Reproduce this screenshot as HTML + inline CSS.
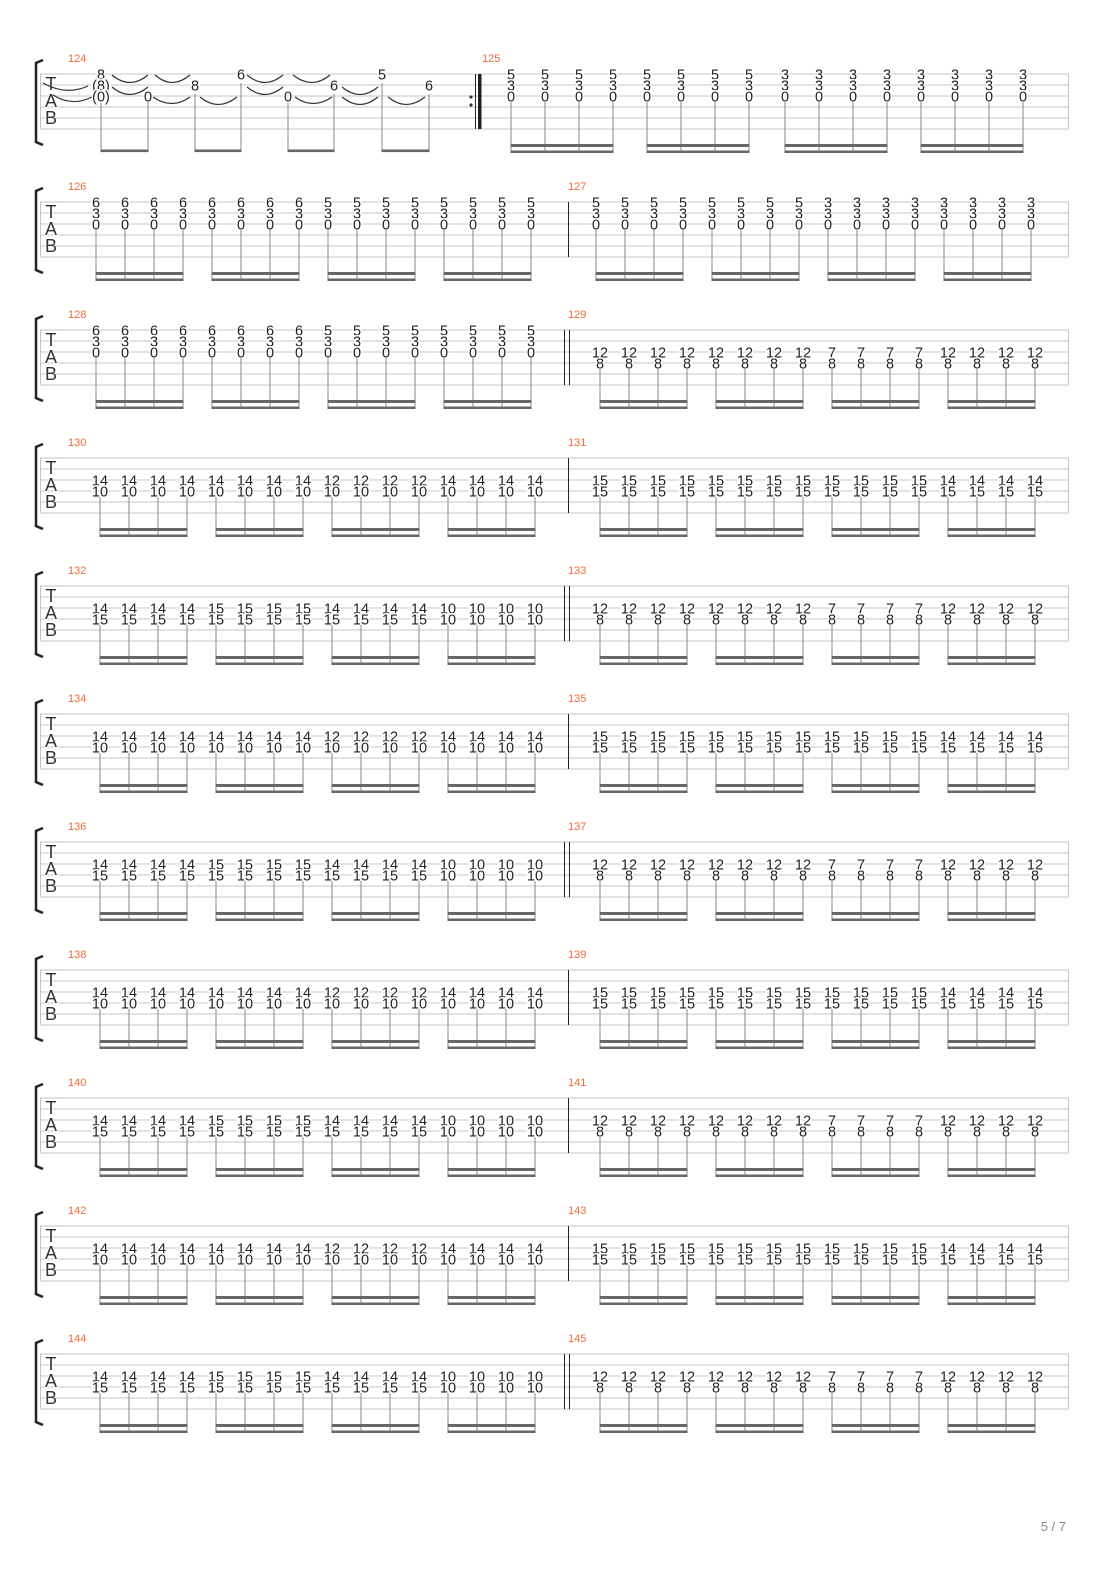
<!DOCTYPE html>
<html><head><meta charset="utf-8"><style>
html,body{margin:0;padding:0;background:#fff}
svg{display:block}
text{font-family:"Liberation Sans",sans-serif}
.n{transform:translate(0px,0.8px)}
.n text{font-size:14.5px;fill:#222;text-anchor:middle;paint-order:stroke;stroke:#fff;stroke-width:3px}
.lb{font-size:11px;fill:#f26b3a}
.tab{font-size:18px;fill:#333;text-anchor:middle;paint-order:stroke;stroke:#fff;stroke-width:2px}
.st{stroke:#c4c4c4;stroke-width:1}
.sm{stroke:#888;stroke-width:1;fill:none}
.bm{fill:#666}
.tie{stroke:#333;stroke-width:1.2;fill:none}
</style></head><body>
<svg width="1110" height="1570" viewBox="0 0 1110 1570" xmlns="http://www.w3.org/2000/svg">

<!-- ===== System 0: 124/125 ===== -->
<g transform="translate(0,74)">
<path class="st" d="M40 0H1069M40 11H1069M40 22H1069M40 33H1069M40 44H1069M40 55H1069M40.5 0V55M1068.5 0V55"/>
<path d="M43 -14L36 -11V68L43 71" stroke="#222" stroke-width="2.5" fill="none"/>
<text class="tab" x="51" y="16">T</text><text class="tab" x="51" y="33">A</text><text class="tab" x="51" y="50">B</text>
<text class="lb" x="68" y="-12">124</text><text class="lb" x="482" y="-12">125</text>
<circle cx="471" cy="23" r="1.6" fill="#333"/><circle cx="471" cy="31" r="1.6" fill="#333"/>
<path d="M475.5 0V55" stroke="#222" stroke-width="1"/><rect x="478" y="0" width="3.5" height="55" fill="#222"/>
<path class="tie" d="M43 9Q66 22 88 12M53 21Q72 33 92 23M112 1Q130 16 148 1M155 1Q172 16 190 1M112 13Q130 28 148 13M153 23Q172 36 190 23M200 23Q218 38 237 23M247 1Q265 16 283 1M293 1Q312 16 330 1M247 13Q265 28 283 13M295 23Q313 36 332 23M342 13Q360 28 378 13M342 23Q360 38 378 23M388 23Q406 38 425 23"/>
<g class="n">
<text x="101" y="4.5">8</text><text x="101" y="15.5">(8)</text><text x="101" y="26.5">(0)</text>
<text x="148" y="26.5">0</text><text x="195" y="15.5">8</text><text x="241" y="4.5">6</text>
<text x="288" y="26.5">0</text><text x="334" y="15.5">6</text><text x="382" y="4.5">5</text><text x="429" y="15.5">6</text>
</g>
<path class="sm" d="M101 29V78M148 28V78M195 20V78M241 9V78M288 29V78M334 20V78M382 9V78M429 20V78"/>
<rect class="bm" x="100.5" y="75.5" width="48" height="2.6"/><rect class="bm" x="194.5" y="75.5" width="47" height="2.6"/><rect class="bm" x="287.5" y="75.5" width="47" height="2.6"/><rect class="bm" x="381.5" y="75.5" width="48" height="2.6"/>
<g class="n">
<g transform="translate(0,4.5)"><text x="511">5</text><text x="545">5</text><text x="579">5</text><text x="613">5</text><text x="647">5</text><text x="681">5</text><text x="715">5</text><text x="749">5</text><text x="785">3</text><text x="819">3</text><text x="853">3</text><text x="887">3</text><text x="921">3</text><text x="955">3</text><text x="989">3</text><text x="1023">3</text></g>
<g transform="translate(0,15.5)"><text x="511">3</text><text x="545">3</text><text x="579">3</text><text x="613">3</text><text x="647">3</text><text x="681">3</text><text x="715">3</text><text x="749">3</text><text x="785">3</text><text x="819">3</text><text x="853">3</text><text x="887">3</text><text x="921">3</text><text x="955">3</text><text x="989">3</text><text x="1023">3</text></g>
<g transform="translate(0,26.5)"><text x="511">0</text><text x="545">0</text><text x="579">0</text><text x="613">0</text><text x="647">0</text><text x="681">0</text><text x="715">0</text><text x="749">0</text><text x="785">0</text><text x="819">0</text><text x="853">0</text><text x="887">0</text><text x="921">0</text><text x="955">0</text><text x="989">0</text><text x="1023">0</text></g>
</g>
<path class="sm" d="M511 28V79M545 28V79M579 28V79M613 28V79M647 28V79M681 28V79M715 28V79M749 28V79M785 28V79M819 28V79M853 28V79M887 28V79M921 28V79M955 28V79M989 28V79M1023 28V79"/>
<g class="bm"><rect x="510.5" y="70" width="103" height="3"/><rect x="510.5" y="76.5" width="103" height="2.5"/><rect x="646.5" y="70" width="103" height="3"/><rect x="646.5" y="76.5" width="103" height="2.5"/><rect x="784.5" y="70" width="103" height="3"/><rect x="784.5" y="76.5" width="103" height="2.5"/><rect x="920.5" y="70" width="103" height="3"/><rect x="920.5" y="76.5" width="103" height="2.5"/></g>
</g>

<!-- ===== System 1: 126/127 ===== -->
<g transform="translate(0,202)">
<path class="st" d="M40 0H1069M40 11H1069M40 22H1069M40 33H1069M40 44H1069M40 55H1069M40.5 0V55M1068.5 0V55"/>
<path d="M43 -14L36 -11V68L43 71" stroke="#222" stroke-width="2.5" fill="none"/>
<text class="tab" x="51" y="16">T</text><text class="tab" x="51" y="33">A</text><text class="tab" x="51" y="50">B</text>
<text class="lb" x="68" y="-12">126</text><text class="lb" x="568" y="-12">127</text>
<path d="M568.5 0V55" stroke="#222" stroke-width="1"/>
<g class="n">
<g transform="translate(0,4.5)"><text x="96">6</text><text x="125">6</text><text x="154">6</text><text x="183">6</text><text x="212">6</text><text x="241">6</text><text x="270">6</text><text x="299">6</text><text x="328">5</text><text x="357">5</text><text x="386">5</text><text x="415">5</text><text x="444">5</text><text x="473">5</text><text x="502">5</text><text x="531">5</text>
<text x="596">5</text><text x="625">5</text><text x="654">5</text><text x="683">5</text><text x="712">5</text><text x="741">5</text><text x="770">5</text><text x="799">5</text><text x="828">3</text><text x="857">3</text><text x="886">3</text><text x="915">3</text><text x="944">3</text><text x="973">3</text><text x="1002">3</text><text x="1031">3</text></g>
<g transform="translate(0,15.5)"><text x="96">3</text><text x="125">3</text><text x="154">3</text><text x="183">3</text><text x="212">3</text><text x="241">3</text><text x="270">3</text><text x="299">3</text><text x="328">3</text><text x="357">3</text><text x="386">3</text><text x="415">3</text><text x="444">3</text><text x="473">3</text><text x="502">3</text><text x="531">3</text>
<text x="596">3</text><text x="625">3</text><text x="654">3</text><text x="683">3</text><text x="712">3</text><text x="741">3</text><text x="770">3</text><text x="799">3</text><text x="828">3</text><text x="857">3</text><text x="886">3</text><text x="915">3</text><text x="944">3</text><text x="973">3</text><text x="1002">3</text><text x="1031">3</text></g>
<g transform="translate(0,26.5)"><text x="96">0</text><text x="125">0</text><text x="154">0</text><text x="183">0</text><text x="212">0</text><text x="241">0</text><text x="270">0</text><text x="299">0</text><text x="328">0</text><text x="357">0</text><text x="386">0</text><text x="415">0</text><text x="444">0</text><text x="473">0</text><text x="502">0</text><text x="531">0</text>
<text x="596">0</text><text x="625">0</text><text x="654">0</text><text x="683">0</text><text x="712">0</text><text x="741">0</text><text x="770">0</text><text x="799">0</text><text x="828">0</text><text x="857">0</text><text x="886">0</text><text x="915">0</text><text x="944">0</text><text x="973">0</text><text x="1002">0</text><text x="1031">0</text></g>
</g>
<path class="sm" d="M96 28V79M125 28V79M154 28V79M183 28V79M212 28V79M241 28V79M270 28V79M299 28V79M328 28V79M357 28V79M386 28V79M415 28V79M444 28V79M473 28V79M502 28V79M531 28V79M596 28V79M625 28V79M654 28V79M683 28V79M712 28V79M741 28V79M770 28V79M799 28V79M828 28V79M857 28V79M886 28V79M915 28V79M944 28V79M973 28V79M1002 28V79M1031 28V79"/>
<g class="bm"><rect x="95.5" y="70" width="88" height="3"/><rect x="95.5" y="76.5" width="88" height="2.5"/><rect x="211.5" y="70" width="88" height="3"/><rect x="211.5" y="76.5" width="88" height="2.5"/><rect x="327.5" y="70" width="88" height="3"/><rect x="327.5" y="76.5" width="88" height="2.5"/><rect x="443.5" y="70" width="88" height="3"/><rect x="443.5" y="76.5" width="88" height="2.5"/>
<rect x="595.5" y="70" width="88" height="3"/><rect x="595.5" y="76.5" width="88" height="2.5"/><rect x="711.5" y="70" width="88" height="3"/><rect x="711.5" y="76.5" width="88" height="2.5"/><rect x="827.5" y="70" width="88" height="3"/><rect x="827.5" y="76.5" width="88" height="2.5"/><rect x="943.5" y="70" width="88" height="3"/><rect x="943.5" y="76.5" width="88" height="2.5"/></g>
</g>

<!-- ===== System 2: 128/129 ===== -->
<g transform="translate(0,330)">
<path class="st" d="M40 0H1069M40 11H1069M40 22H1069M40 33H1069M40 44H1069M40 55H1069M40.5 0V55M1068.5 0V55"/>
<path d="M43 -14L36 -11V68L43 71" stroke="#222" stroke-width="2.5" fill="none"/>
<text class="tab" x="51" y="16">T</text><text class="tab" x="51" y="33">A</text><text class="tab" x="51" y="50">B</text>
<text class="lb" x="68" y="-12">128</text><text class="lb" x="568" y="-12">129</text>
<path d="M564.5 0V55M569.5 0V55" stroke="#222" stroke-width="1"/>
<g class="n">
<g transform="translate(0,4.5)"><text x="96">6</text><text x="125">6</text><text x="154">6</text><text x="183">6</text><text x="212">6</text><text x="241">6</text><text x="270">6</text><text x="299">6</text><text x="328">5</text><text x="357">5</text><text x="386">5</text><text x="415">5</text><text x="444">5</text><text x="473">5</text><text x="502">5</text><text x="531">5</text></g>
<g transform="translate(0,15.5)"><text x="96">3</text><text x="125">3</text><text x="154">3</text><text x="183">3</text><text x="212">3</text><text x="241">3</text><text x="270">3</text><text x="299">3</text><text x="328">3</text><text x="357">3</text><text x="386">3</text><text x="415">3</text><text x="444">3</text><text x="473">3</text><text x="502">3</text><text x="531">3</text></g>
<g transform="translate(0,26.5)"><text x="96">0</text><text x="125">0</text><text x="154">0</text><text x="183">0</text><text x="212">0</text><text x="241">0</text><text x="270">0</text><text x="299">0</text><text x="328">0</text><text x="357">0</text><text x="386">0</text><text x="415">0</text><text x="444">0</text><text x="473">0</text><text x="502">0</text><text x="531">0</text>
<text x="600">12</text><text x="629">12</text><text x="658">12</text><text x="687">12</text><text x="716">12</text><text x="745">12</text><text x="774">12</text><text x="803">12</text><text x="832">7</text><text x="861">7</text><text x="890">7</text><text x="919">7</text><text x="948">12</text><text x="977">12</text><text x="1006">12</text><text x="1035">12</text></g>
<g transform="translate(0,37.5)"><text x="600">8</text><text x="629">8</text><text x="658">8</text><text x="687">8</text><text x="716">8</text><text x="745">8</text><text x="774">8</text><text x="803">8</text><text x="832">8</text><text x="861">8</text><text x="890">8</text><text x="919">8</text><text x="948">8</text><text x="977">8</text><text x="1006">8</text><text x="1035">8</text></g>
</g>
<path class="sm" d="M96 28V79M125 28V79M154 28V79M183 28V79M212 28V79M241 28V79M270 28V79M299 28V79M328 28V79M357 28V79M386 28V79M415 28V79M444 28V79M473 28V79M502 28V79M531 28V79M600 39V79M629 39V79M658 39V79M687 39V79M716 39V79M745 39V79M774 39V79M803 39V79M832 39V79M861 39V79M890 39V79M919 39V79M948 39V79M977 39V79M1006 39V79M1035 39V79"/>
<g class="bm"><rect x="95.5" y="70" width="88" height="3"/><rect x="95.5" y="76.5" width="88" height="2.5"/><rect x="211.5" y="70" width="88" height="3"/><rect x="211.5" y="76.5" width="88" height="2.5"/><rect x="327.5" y="70" width="88" height="3"/><rect x="327.5" y="76.5" width="88" height="2.5"/><rect x="443.5" y="70" width="88" height="3"/><rect x="443.5" y="76.5" width="88" height="2.5"/>
<rect x="599.5" y="70" width="88" height="3"/><rect x="599.5" y="76.5" width="88" height="2.5"/><rect x="715.5" y="70" width="88" height="3"/><rect x="715.5" y="76.5" width="88" height="2.5"/><rect x="831.5" y="70" width="88" height="3"/><rect x="831.5" y="76.5" width="88" height="2.5"/><rect x="947.5" y="70" width="88" height="3"/><rect x="947.5" y="76.5" width="88" height="2.5"/></g>
</g>

<!-- System 3: 130/131 -->
<g transform="translate(0,458)">
<path class="st" d="M40 0H1069M40 11H1069M40 22H1069M40 33H1069M40 44H1069M40 55H1069M40.5 0V55M1068.5 0V55"/>
<path d="M43 -14L36 -11V68L43 71" stroke="#222" stroke-width="2.5" fill="none"/>
<text class="tab" x="51" y="16">T</text><text class="tab" x="51" y="33">A</text><text class="tab" x="51" y="50">B</text>
<text class="lb" x="68" y="-12">130</text><text class="lb" x="568" y="-12">131</text>
<path d="M568.5 0V55" stroke="#222" stroke-width="1"/>
<g class="n">
<g transform="translate(0,26.5)"><text x="100">14</text><text x="129">14</text><text x="158">14</text><text x="187">14</text><text x="216">14</text><text x="245">14</text><text x="274">14</text><text x="303">14</text><text x="332">12</text><text x="361">12</text><text x="390">12</text><text x="419">12</text><text x="448">14</text><text x="477">14</text><text x="506">14</text><text x="535">14</text>
<text x="600">15</text><text x="629">15</text><text x="658">15</text><text x="687">15</text><text x="716">15</text><text x="745">15</text><text x="774">15</text><text x="803">15</text><text x="832">15</text><text x="861">15</text><text x="890">15</text><text x="919">15</text><text x="948">14</text><text x="977">14</text><text x="1006">14</text><text x="1035">14</text></g>
<g transform="translate(0,37.5)"><text x="100">10</text><text x="129">10</text><text x="158">10</text><text x="187">10</text><text x="216">10</text><text x="245">10</text><text x="274">10</text><text x="303">10</text><text x="332">10</text><text x="361">10</text><text x="390">10</text><text x="419">10</text><text x="448">10</text><text x="477">10</text><text x="506">10</text><text x="535">10</text>
<text x="600">15</text><text x="629">15</text><text x="658">15</text><text x="687">15</text><text x="716">15</text><text x="745">15</text><text x="774">15</text><text x="803">15</text><text x="832">15</text><text x="861">15</text><text x="890">15</text><text x="919">15</text><text x="948">15</text><text x="977">15</text><text x="1006">15</text><text x="1035">15</text></g>
</g>
<path class="sm" d="M100 39V79M129 39V79M158 39V79M187 39V79M216 39V79M245 39V79M274 39V79M303 39V79M332 39V79M361 39V79M390 39V79M419 39V79M448 39V79M477 39V79M506 39V79M535 39V79M600 39V79M629 39V79M658 39V79M687 39V79M716 39V79M745 39V79M774 39V79M803 39V79M832 39V79M861 39V79M890 39V79M919 39V79M948 39V79M977 39V79M1006 39V79M1035 39V79"/>
<g class="bm"><rect x="99.5" y="70" width="88" height="3"/><rect x="99.5" y="76.5" width="88" height="2.5"/><rect x="215.5" y="70" width="88" height="3"/><rect x="215.5" y="76.5" width="88" height="2.5"/><rect x="331.5" y="70" width="88" height="3"/><rect x="331.5" y="76.5" width="88" height="2.5"/><rect x="447.5" y="70" width="88" height="3"/><rect x="447.5" y="76.5" width="88" height="2.5"/>
<rect x="599.5" y="70" width="88" height="3"/><rect x="599.5" y="76.5" width="88" height="2.5"/><rect x="715.5" y="70" width="88" height="3"/><rect x="715.5" y="76.5" width="88" height="2.5"/><rect x="831.5" y="70" width="88" height="3"/><rect x="831.5" y="76.5" width="88" height="2.5"/><rect x="947.5" y="70" width="88" height="3"/><rect x="947.5" y="76.5" width="88" height="2.5"/></g>
</g>

<!-- System 4: 132/133 -->
<g transform="translate(0,586)">
<path class="st" d="M40 0H1069M40 11H1069M40 22H1069M40 33H1069M40 44H1069M40 55H1069M40.5 0V55M1068.5 0V55"/>
<path d="M43 -14L36 -11V68L43 71" stroke="#222" stroke-width="2.5" fill="none"/>
<text class="tab" x="51" y="16">T</text><text class="tab" x="51" y="33">A</text><text class="tab" x="51" y="50">B</text>
<text class="lb" x="68" y="-12">132</text><text class="lb" x="568" y="-12">133</text>
<path d="M564.5 0V55M569.5 0V55" stroke="#222" stroke-width="1"/>
<g class="n">
<g transform="translate(0,26.5)"><text x="100">14</text><text x="129">14</text><text x="158">14</text><text x="187">14</text><text x="216">15</text><text x="245">15</text><text x="274">15</text><text x="303">15</text><text x="332">14</text><text x="361">14</text><text x="390">14</text><text x="419">14</text><text x="448">10</text><text x="477">10</text><text x="506">10</text><text x="535">10</text>
<text x="600">12</text><text x="629">12</text><text x="658">12</text><text x="687">12</text><text x="716">12</text><text x="745">12</text><text x="774">12</text><text x="803">12</text><text x="832">7</text><text x="861">7</text><text x="890">7</text><text x="919">7</text><text x="948">12</text><text x="977">12</text><text x="1006">12</text><text x="1035">12</text></g>
<g transform="translate(0,37.5)"><text x="100">15</text><text x="129">15</text><text x="158">15</text><text x="187">15</text><text x="216">15</text><text x="245">15</text><text x="274">15</text><text x="303">15</text><text x="332">15</text><text x="361">15</text><text x="390">15</text><text x="419">15</text><text x="448">10</text><text x="477">10</text><text x="506">10</text><text x="535">10</text>
<text x="600">8</text><text x="629">8</text><text x="658">8</text><text x="687">8</text><text x="716">8</text><text x="745">8</text><text x="774">8</text><text x="803">8</text><text x="832">8</text><text x="861">8</text><text x="890">8</text><text x="919">8</text><text x="948">8</text><text x="977">8</text><text x="1006">8</text><text x="1035">8</text></g>
</g>
<path class="sm" d="M100 39V79M129 39V79M158 39V79M187 39V79M216 39V79M245 39V79M274 39V79M303 39V79M332 39V79M361 39V79M390 39V79M419 39V79M448 39V79M477 39V79M506 39V79M535 39V79M600 39V79M629 39V79M658 39V79M687 39V79M716 39V79M745 39V79M774 39V79M803 39V79M832 39V79M861 39V79M890 39V79M919 39V79M948 39V79M977 39V79M1006 39V79M1035 39V79"/>
<g class="bm"><rect x="99.5" y="70" width="88" height="3"/><rect x="99.5" y="76.5" width="88" height="2.5"/><rect x="215.5" y="70" width="88" height="3"/><rect x="215.5" y="76.5" width="88" height="2.5"/><rect x="331.5" y="70" width="88" height="3"/><rect x="331.5" y="76.5" width="88" height="2.5"/><rect x="447.5" y="70" width="88" height="3"/><rect x="447.5" y="76.5" width="88" height="2.5"/>
<rect x="599.5" y="70" width="88" height="3"/><rect x="599.5" y="76.5" width="88" height="2.5"/><rect x="715.5" y="70" width="88" height="3"/><rect x="715.5" y="76.5" width="88" height="2.5"/><rect x="831.5" y="70" width="88" height="3"/><rect x="831.5" y="76.5" width="88" height="2.5"/><rect x="947.5" y="70" width="88" height="3"/><rect x="947.5" y="76.5" width="88" height="2.5"/></g>
</g>

<!-- System 5: 134/135 -->
<g transform="translate(0,714)">
<path class="st" d="M40 0H1069M40 11H1069M40 22H1069M40 33H1069M40 44H1069M40 55H1069M40.5 0V55M1068.5 0V55"/>
<path d="M43 -14L36 -11V68L43 71" stroke="#222" stroke-width="2.5" fill="none"/>
<text class="tab" x="51" y="16">T</text><text class="tab" x="51" y="33">A</text><text class="tab" x="51" y="50">B</text>
<text class="lb" x="68" y="-12">134</text><text class="lb" x="568" y="-12">135</text>
<path d="M568.5 0V55" stroke="#222" stroke-width="1"/>
<g class="n">
<g transform="translate(0,26.5)"><text x="100">14</text><text x="129">14</text><text x="158">14</text><text x="187">14</text><text x="216">14</text><text x="245">14</text><text x="274">14</text><text x="303">14</text><text x="332">12</text><text x="361">12</text><text x="390">12</text><text x="419">12</text><text x="448">14</text><text x="477">14</text><text x="506">14</text><text x="535">14</text>
<text x="600">15</text><text x="629">15</text><text x="658">15</text><text x="687">15</text><text x="716">15</text><text x="745">15</text><text x="774">15</text><text x="803">15</text><text x="832">15</text><text x="861">15</text><text x="890">15</text><text x="919">15</text><text x="948">14</text><text x="977">14</text><text x="1006">14</text><text x="1035">14</text></g>
<g transform="translate(0,37.5)"><text x="100">10</text><text x="129">10</text><text x="158">10</text><text x="187">10</text><text x="216">10</text><text x="245">10</text><text x="274">10</text><text x="303">10</text><text x="332">10</text><text x="361">10</text><text x="390">10</text><text x="419">10</text><text x="448">10</text><text x="477">10</text><text x="506">10</text><text x="535">10</text>
<text x="600">15</text><text x="629">15</text><text x="658">15</text><text x="687">15</text><text x="716">15</text><text x="745">15</text><text x="774">15</text><text x="803">15</text><text x="832">15</text><text x="861">15</text><text x="890">15</text><text x="919">15</text><text x="948">15</text><text x="977">15</text><text x="1006">15</text><text x="1035">15</text></g>
</g>
<path class="sm" d="M100 39V79M129 39V79M158 39V79M187 39V79M216 39V79M245 39V79M274 39V79M303 39V79M332 39V79M361 39V79M390 39V79M419 39V79M448 39V79M477 39V79M506 39V79M535 39V79M600 39V79M629 39V79M658 39V79M687 39V79M716 39V79M745 39V79M774 39V79M803 39V79M832 39V79M861 39V79M890 39V79M919 39V79M948 39V79M977 39V79M1006 39V79M1035 39V79"/>
<g class="bm"><rect x="99.5" y="70" width="88" height="3"/><rect x="99.5" y="76.5" width="88" height="2.5"/><rect x="215.5" y="70" width="88" height="3"/><rect x="215.5" y="76.5" width="88" height="2.5"/><rect x="331.5" y="70" width="88" height="3"/><rect x="331.5" y="76.5" width="88" height="2.5"/><rect x="447.5" y="70" width="88" height="3"/><rect x="447.5" y="76.5" width="88" height="2.5"/>
<rect x="599.5" y="70" width="88" height="3"/><rect x="599.5" y="76.5" width="88" height="2.5"/><rect x="715.5" y="70" width="88" height="3"/><rect x="715.5" y="76.5" width="88" height="2.5"/><rect x="831.5" y="70" width="88" height="3"/><rect x="831.5" y="76.5" width="88" height="2.5"/><rect x="947.5" y="70" width="88" height="3"/><rect x="947.5" y="76.5" width="88" height="2.5"/></g>
</g>

<!-- System 6: 136/137 -->
<g transform="translate(0,842)">
<path class="st" d="M40 0H1069M40 11H1069M40 22H1069M40 33H1069M40 44H1069M40 55H1069M40.5 0V55M1068.5 0V55"/>
<path d="M43 -14L36 -11V68L43 71" stroke="#222" stroke-width="2.5" fill="none"/>
<text class="tab" x="51" y="16">T</text><text class="tab" x="51" y="33">A</text><text class="tab" x="51" y="50">B</text>
<text class="lb" x="68" y="-12">136</text><text class="lb" x="568" y="-12">137</text>
<path d="M564.5 0V55M569.5 0V55" stroke="#222" stroke-width="1"/>
<g class="n">
<g transform="translate(0,26.5)"><text x="100">14</text><text x="129">14</text><text x="158">14</text><text x="187">14</text><text x="216">15</text><text x="245">15</text><text x="274">15</text><text x="303">15</text><text x="332">14</text><text x="361">14</text><text x="390">14</text><text x="419">14</text><text x="448">10</text><text x="477">10</text><text x="506">10</text><text x="535">10</text>
<text x="600">12</text><text x="629">12</text><text x="658">12</text><text x="687">12</text><text x="716">12</text><text x="745">12</text><text x="774">12</text><text x="803">12</text><text x="832">7</text><text x="861">7</text><text x="890">7</text><text x="919">7</text><text x="948">12</text><text x="977">12</text><text x="1006">12</text><text x="1035">12</text></g>
<g transform="translate(0,37.5)"><text x="100">15</text><text x="129">15</text><text x="158">15</text><text x="187">15</text><text x="216">15</text><text x="245">15</text><text x="274">15</text><text x="303">15</text><text x="332">15</text><text x="361">15</text><text x="390">15</text><text x="419">15</text><text x="448">10</text><text x="477">10</text><text x="506">10</text><text x="535">10</text>
<text x="600">8</text><text x="629">8</text><text x="658">8</text><text x="687">8</text><text x="716">8</text><text x="745">8</text><text x="774">8</text><text x="803">8</text><text x="832">8</text><text x="861">8</text><text x="890">8</text><text x="919">8</text><text x="948">8</text><text x="977">8</text><text x="1006">8</text><text x="1035">8</text></g>
</g>
<path class="sm" d="M100 39V79M129 39V79M158 39V79M187 39V79M216 39V79M245 39V79M274 39V79M303 39V79M332 39V79M361 39V79M390 39V79M419 39V79M448 39V79M477 39V79M506 39V79M535 39V79M600 39V79M629 39V79M658 39V79M687 39V79M716 39V79M745 39V79M774 39V79M803 39V79M832 39V79M861 39V79M890 39V79M919 39V79M948 39V79M977 39V79M1006 39V79M1035 39V79"/>
<g class="bm"><rect x="99.5" y="70" width="88" height="3"/><rect x="99.5" y="76.5" width="88" height="2.5"/><rect x="215.5" y="70" width="88" height="3"/><rect x="215.5" y="76.5" width="88" height="2.5"/><rect x="331.5" y="70" width="88" height="3"/><rect x="331.5" y="76.5" width="88" height="2.5"/><rect x="447.5" y="70" width="88" height="3"/><rect x="447.5" y="76.5" width="88" height="2.5"/>
<rect x="599.5" y="70" width="88" height="3"/><rect x="599.5" y="76.5" width="88" height="2.5"/><rect x="715.5" y="70" width="88" height="3"/><rect x="715.5" y="76.5" width="88" height="2.5"/><rect x="831.5" y="70" width="88" height="3"/><rect x="831.5" y="76.5" width="88" height="2.5"/><rect x="947.5" y="70" width="88" height="3"/><rect x="947.5" y="76.5" width="88" height="2.5"/></g>
</g>

<!-- System 7: 138/139 -->
<g transform="translate(0,970)">
<path class="st" d="M40 0H1069M40 11H1069M40 22H1069M40 33H1069M40 44H1069M40 55H1069M40.5 0V55M1068.5 0V55"/>
<path d="M43 -14L36 -11V68L43 71" stroke="#222" stroke-width="2.5" fill="none"/>
<text class="tab" x="51" y="16">T</text><text class="tab" x="51" y="33">A</text><text class="tab" x="51" y="50">B</text>
<text class="lb" x="68" y="-12">138</text><text class="lb" x="568" y="-12">139</text>
<path d="M568.5 0V55" stroke="#222" stroke-width="1"/>
<g class="n">
<g transform="translate(0,26.5)"><text x="100">14</text><text x="129">14</text><text x="158">14</text><text x="187">14</text><text x="216">14</text><text x="245">14</text><text x="274">14</text><text x="303">14</text><text x="332">12</text><text x="361">12</text><text x="390">12</text><text x="419">12</text><text x="448">14</text><text x="477">14</text><text x="506">14</text><text x="535">14</text>
<text x="600">15</text><text x="629">15</text><text x="658">15</text><text x="687">15</text><text x="716">15</text><text x="745">15</text><text x="774">15</text><text x="803">15</text><text x="832">15</text><text x="861">15</text><text x="890">15</text><text x="919">15</text><text x="948">14</text><text x="977">14</text><text x="1006">14</text><text x="1035">14</text></g>
<g transform="translate(0,37.5)"><text x="100">10</text><text x="129">10</text><text x="158">10</text><text x="187">10</text><text x="216">10</text><text x="245">10</text><text x="274">10</text><text x="303">10</text><text x="332">10</text><text x="361">10</text><text x="390">10</text><text x="419">10</text><text x="448">10</text><text x="477">10</text><text x="506">10</text><text x="535">10</text>
<text x="600">15</text><text x="629">15</text><text x="658">15</text><text x="687">15</text><text x="716">15</text><text x="745">15</text><text x="774">15</text><text x="803">15</text><text x="832">15</text><text x="861">15</text><text x="890">15</text><text x="919">15</text><text x="948">15</text><text x="977">15</text><text x="1006">15</text><text x="1035">15</text></g>
</g>
<path class="sm" d="M100 39V79M129 39V79M158 39V79M187 39V79M216 39V79M245 39V79M274 39V79M303 39V79M332 39V79M361 39V79M390 39V79M419 39V79M448 39V79M477 39V79M506 39V79M535 39V79M600 39V79M629 39V79M658 39V79M687 39V79M716 39V79M745 39V79M774 39V79M803 39V79M832 39V79M861 39V79M890 39V79M919 39V79M948 39V79M977 39V79M1006 39V79M1035 39V79"/>
<g class="bm"><rect x="99.5" y="70" width="88" height="3"/><rect x="99.5" y="76.5" width="88" height="2.5"/><rect x="215.5" y="70" width="88" height="3"/><rect x="215.5" y="76.5" width="88" height="2.5"/><rect x="331.5" y="70" width="88" height="3"/><rect x="331.5" y="76.5" width="88" height="2.5"/><rect x="447.5" y="70" width="88" height="3"/><rect x="447.5" y="76.5" width="88" height="2.5"/>
<rect x="599.5" y="70" width="88" height="3"/><rect x="599.5" y="76.5" width="88" height="2.5"/><rect x="715.5" y="70" width="88" height="3"/><rect x="715.5" y="76.5" width="88" height="2.5"/><rect x="831.5" y="70" width="88" height="3"/><rect x="831.5" y="76.5" width="88" height="2.5"/><rect x="947.5" y="70" width="88" height="3"/><rect x="947.5" y="76.5" width="88" height="2.5"/></g>
</g>

<!-- System 8: 140/141 -->
<g transform="translate(0,1098)">
<path class="st" d="M40 0H1069M40 11H1069M40 22H1069M40 33H1069M40 44H1069M40 55H1069M40.5 0V55M1068.5 0V55"/>
<path d="M43 -14L36 -11V68L43 71" stroke="#222" stroke-width="2.5" fill="none"/>
<text class="tab" x="51" y="16">T</text><text class="tab" x="51" y="33">A</text><text class="tab" x="51" y="50">B</text>
<text class="lb" x="68" y="-12">140</text><text class="lb" x="568" y="-12">141</text>
<path d="M568.5 0V55" stroke="#222" stroke-width="1"/>
<g class="n">
<g transform="translate(0,26.5)"><text x="100">14</text><text x="129">14</text><text x="158">14</text><text x="187">14</text><text x="216">15</text><text x="245">15</text><text x="274">15</text><text x="303">15</text><text x="332">14</text><text x="361">14</text><text x="390">14</text><text x="419">14</text><text x="448">10</text><text x="477">10</text><text x="506">10</text><text x="535">10</text>
<text x="600">12</text><text x="629">12</text><text x="658">12</text><text x="687">12</text><text x="716">12</text><text x="745">12</text><text x="774">12</text><text x="803">12</text><text x="832">7</text><text x="861">7</text><text x="890">7</text><text x="919">7</text><text x="948">12</text><text x="977">12</text><text x="1006">12</text><text x="1035">12</text></g>
<g transform="translate(0,37.5)"><text x="100">15</text><text x="129">15</text><text x="158">15</text><text x="187">15</text><text x="216">15</text><text x="245">15</text><text x="274">15</text><text x="303">15</text><text x="332">15</text><text x="361">15</text><text x="390">15</text><text x="419">15</text><text x="448">10</text><text x="477">10</text><text x="506">10</text><text x="535">10</text>
<text x="600">8</text><text x="629">8</text><text x="658">8</text><text x="687">8</text><text x="716">8</text><text x="745">8</text><text x="774">8</text><text x="803">8</text><text x="832">8</text><text x="861">8</text><text x="890">8</text><text x="919">8</text><text x="948">8</text><text x="977">8</text><text x="1006">8</text><text x="1035">8</text></g>
</g>
<path class="sm" d="M100 39V79M129 39V79M158 39V79M187 39V79M216 39V79M245 39V79M274 39V79M303 39V79M332 39V79M361 39V79M390 39V79M419 39V79M448 39V79M477 39V79M506 39V79M535 39V79M600 39V79M629 39V79M658 39V79M687 39V79M716 39V79M745 39V79M774 39V79M803 39V79M832 39V79M861 39V79M890 39V79M919 39V79M948 39V79M977 39V79M1006 39V79M1035 39V79"/>
<g class="bm"><rect x="99.5" y="70" width="88" height="3"/><rect x="99.5" y="76.5" width="88" height="2.5"/><rect x="215.5" y="70" width="88" height="3"/><rect x="215.5" y="76.5" width="88" height="2.5"/><rect x="331.5" y="70" width="88" height="3"/><rect x="331.5" y="76.5" width="88" height="2.5"/><rect x="447.5" y="70" width="88" height="3"/><rect x="447.5" y="76.5" width="88" height="2.5"/>
<rect x="599.5" y="70" width="88" height="3"/><rect x="599.5" y="76.5" width="88" height="2.5"/><rect x="715.5" y="70" width="88" height="3"/><rect x="715.5" y="76.5" width="88" height="2.5"/><rect x="831.5" y="70" width="88" height="3"/><rect x="831.5" y="76.5" width="88" height="2.5"/><rect x="947.5" y="70" width="88" height="3"/><rect x="947.5" y="76.5" width="88" height="2.5"/></g>
</g>

<!-- System 9: 142/143 -->
<g transform="translate(0,1226)">
<path class="st" d="M40 0H1069M40 11H1069M40 22H1069M40 33H1069M40 44H1069M40 55H1069M40.5 0V55M1068.5 0V55"/>
<path d="M43 -14L36 -11V68L43 71" stroke="#222" stroke-width="2.5" fill="none"/>
<text class="tab" x="51" y="16">T</text><text class="tab" x="51" y="33">A</text><text class="tab" x="51" y="50">B</text>
<text class="lb" x="68" y="-12">142</text><text class="lb" x="568" y="-12">143</text>
<path d="M568.5 0V55" stroke="#222" stroke-width="1"/>
<g class="n">
<g transform="translate(0,26.5)"><text x="100">14</text><text x="129">14</text><text x="158">14</text><text x="187">14</text><text x="216">14</text><text x="245">14</text><text x="274">14</text><text x="303">14</text><text x="332">12</text><text x="361">12</text><text x="390">12</text><text x="419">12</text><text x="448">14</text><text x="477">14</text><text x="506">14</text><text x="535">14</text>
<text x="600">15</text><text x="629">15</text><text x="658">15</text><text x="687">15</text><text x="716">15</text><text x="745">15</text><text x="774">15</text><text x="803">15</text><text x="832">15</text><text x="861">15</text><text x="890">15</text><text x="919">15</text><text x="948">14</text><text x="977">14</text><text x="1006">14</text><text x="1035">14</text></g>
<g transform="translate(0,37.5)"><text x="100">10</text><text x="129">10</text><text x="158">10</text><text x="187">10</text><text x="216">10</text><text x="245">10</text><text x="274">10</text><text x="303">10</text><text x="332">10</text><text x="361">10</text><text x="390">10</text><text x="419">10</text><text x="448">10</text><text x="477">10</text><text x="506">10</text><text x="535">10</text>
<text x="600">15</text><text x="629">15</text><text x="658">15</text><text x="687">15</text><text x="716">15</text><text x="745">15</text><text x="774">15</text><text x="803">15</text><text x="832">15</text><text x="861">15</text><text x="890">15</text><text x="919">15</text><text x="948">15</text><text x="977">15</text><text x="1006">15</text><text x="1035">15</text></g>
</g>
<path class="sm" d="M100 39V79M129 39V79M158 39V79M187 39V79M216 39V79M245 39V79M274 39V79M303 39V79M332 39V79M361 39V79M390 39V79M419 39V79M448 39V79M477 39V79M506 39V79M535 39V79M600 39V79M629 39V79M658 39V79M687 39V79M716 39V79M745 39V79M774 39V79M803 39V79M832 39V79M861 39V79M890 39V79M919 39V79M948 39V79M977 39V79M1006 39V79M1035 39V79"/>
<g class="bm"><rect x="99.5" y="70" width="88" height="3"/><rect x="99.5" y="76.5" width="88" height="2.5"/><rect x="215.5" y="70" width="88" height="3"/><rect x="215.5" y="76.5" width="88" height="2.5"/><rect x="331.5" y="70" width="88" height="3"/><rect x="331.5" y="76.5" width="88" height="2.5"/><rect x="447.5" y="70" width="88" height="3"/><rect x="447.5" y="76.5" width="88" height="2.5"/>
<rect x="599.5" y="70" width="88" height="3"/><rect x="599.5" y="76.5" width="88" height="2.5"/><rect x="715.5" y="70" width="88" height="3"/><rect x="715.5" y="76.5" width="88" height="2.5"/><rect x="831.5" y="70" width="88" height="3"/><rect x="831.5" y="76.5" width="88" height="2.5"/><rect x="947.5" y="70" width="88" height="3"/><rect x="947.5" y="76.5" width="88" height="2.5"/></g>
</g>

<!-- System 10: 144/145 -->
<g transform="translate(0,1354)">
<path class="st" d="M40 0H1069M40 11H1069M40 22H1069M40 33H1069M40 44H1069M40 55H1069M40.5 0V55M1068.5 0V55"/>
<path d="M43 -14L36 -11V68L43 71" stroke="#222" stroke-width="2.5" fill="none"/>
<text class="tab" x="51" y="16">T</text><text class="tab" x="51" y="33">A</text><text class="tab" x="51" y="50">B</text>
<text class="lb" x="68" y="-12">144</text><text class="lb" x="568" y="-12">145</text>
<path d="M564.5 0V55M569.5 0V55" stroke="#222" stroke-width="1"/>
<g class="n">
<g transform="translate(0,26.5)"><text x="100">14</text><text x="129">14</text><text x="158">14</text><text x="187">14</text><text x="216">15</text><text x="245">15</text><text x="274">15</text><text x="303">15</text><text x="332">14</text><text x="361">14</text><text x="390">14</text><text x="419">14</text><text x="448">10</text><text x="477">10</text><text x="506">10</text><text x="535">10</text>
<text x="600">12</text><text x="629">12</text><text x="658">12</text><text x="687">12</text><text x="716">12</text><text x="745">12</text><text x="774">12</text><text x="803">12</text><text x="832">7</text><text x="861">7</text><text x="890">7</text><text x="919">7</text><text x="948">12</text><text x="977">12</text><text x="1006">12</text><text x="1035">12</text></g>
<g transform="translate(0,37.5)"><text x="100">15</text><text x="129">15</text><text x="158">15</text><text x="187">15</text><text x="216">15</text><text x="245">15</text><text x="274">15</text><text x="303">15</text><text x="332">15</text><text x="361">15</text><text x="390">15</text><text x="419">15</text><text x="448">10</text><text x="477">10</text><text x="506">10</text><text x="535">10</text>
<text x="600">8</text><text x="629">8</text><text x="658">8</text><text x="687">8</text><text x="716">8</text><text x="745">8</text><text x="774">8</text><text x="803">8</text><text x="832">8</text><text x="861">8</text><text x="890">8</text><text x="919">8</text><text x="948">8</text><text x="977">8</text><text x="1006">8</text><text x="1035">8</text></g>
</g>
<path class="sm" d="M100 39V79M129 39V79M158 39V79M187 39V79M216 39V79M245 39V79M274 39V79M303 39V79M332 39V79M361 39V79M390 39V79M419 39V79M448 39V79M477 39V79M506 39V79M535 39V79M600 39V79M629 39V79M658 39V79M687 39V79M716 39V79M745 39V79M774 39V79M803 39V79M832 39V79M861 39V79M890 39V79M919 39V79M948 39V79M977 39V79M1006 39V79M1035 39V79"/>
<g class="bm"><rect x="99.5" y="70" width="88" height="3"/><rect x="99.5" y="76.5" width="88" height="2.5"/><rect x="215.5" y="70" width="88" height="3"/><rect x="215.5" y="76.5" width="88" height="2.5"/><rect x="331.5" y="70" width="88" height="3"/><rect x="331.5" y="76.5" width="88" height="2.5"/><rect x="447.5" y="70" width="88" height="3"/><rect x="447.5" y="76.5" width="88" height="2.5"/>
<rect x="599.5" y="70" width="88" height="3"/><rect x="599.5" y="76.5" width="88" height="2.5"/><rect x="715.5" y="70" width="88" height="3"/><rect x="715.5" y="76.5" width="88" height="2.5"/><rect x="831.5" y="70" width="88" height="3"/><rect x="831.5" y="76.5" width="88" height="2.5"/><rect x="947.5" y="70" width="88" height="3"/><rect x="947.5" y="76.5" width="88" height="2.5"/></g>
</g>

<text x="1066" y="1531" font-size="13" fill="#888" text-anchor="end">5 / 7</text>
</svg>
</body></html>
